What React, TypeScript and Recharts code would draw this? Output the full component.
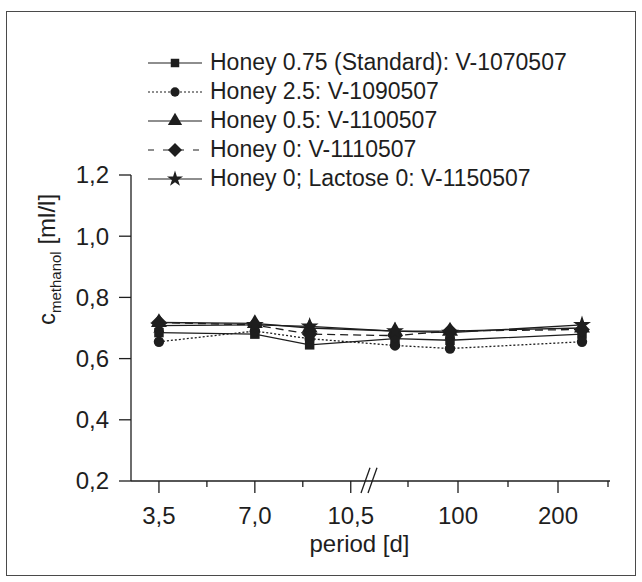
import { LineChart, Line, XAxis, YAxis, Legend, ReferenceLine, Symbols } from 'recharts'

// storage time in days, the x axis is broken between 10,5 and 100
const days = [3.5, 7, 9, 37, 92, 224]
const honey075 = [0.685, 0.68, 0.645, 0.665, 0.66, 0.68]
const honey25 = [0.655, 0.69, 0.665, 0.643, 0.633, 0.655]
const honey05 = [0.718, 0.715, 0.7, 0.69, 0.69, 0.7]
const honey0 = [0.718, 0.71, 0.68, 0.675, 0.69, 0.695]
const lactose0 = [0.708, 0.71, 0.705, 0.69, 0.685, 0.71]

const majorTicks = [3.5, 7, 10.5, 100, 200]
const majorLabels = ['3,5', '7,0', '10,5', '100', '200']
const minorTicks = [5.25, 8.75, 50, 150, 250]
const yTicks = [0.2, 0.4, 0.6, 0.8, 1.0, 1.2]

const FONT = '"Liberation Sans", Arial, Helvetica, sans-serif'
const INK = '#1e1e1e'

// piecewise axis: left part ~27.4 units/day, right part 1 unit/day
const BREAK = 237
function pos(d: number) {
  return d < 12 ? (d - 2.48) * 27.4 : BREAK + (d - 10)
}

const SERIES = [
  { key: 'h075', name: 'Honey 0.75 (Standard): V-1070507', symbol: 'square', size: 90, dash: undefined, legendDash: undefined, values: honey075 },
  { key: 'h25', name: 'Honey 2.5: V-1090507', symbol: 'circle', size: 85, dash: '2 2', legendDash: '2 2', values: honey25 },
  { key: 'h05', name: 'Honey 0.5: V-1100507', symbol: 'triangle', size: 110, dash: undefined, legendDash: undefined, values: honey05 },
  { key: 'h0', name: 'Honey 0: V-1110507', symbol: 'diamond', size: 110, dash: '8 5', legendDash: '6 9', values: honey0 },
  { key: 'l0', name: 'Honey 0; Lactose 0: V-1150507', symbol: 'star', size: 100, dash: undefined, legendDash: undefined, values: lactose0 },
]

const data = days.map((d, i) => {
  const row: Record<string, number> = { pos: pos(d), day: d }
  SERIES.forEach((s) => (row[s.key] = s.values[i]))
  return row
})

const xTicks = [...majorTicks, ...minorTicks].map(pos)

function XTick({ x, y, payload }: any) {
  const idx = majorTicks.findIndex((d) => Math.abs(pos(d) - payload.value) < 1e-6)
  const major = idx >= 0
  return (
    <g>
      <line x1={x} x2={x} y1={y} y2={y + (major ? 12 : 6)} stroke={INK} strokeWidth={1.3} />
      {major && (
        <text x={x} y={y + 43} textAnchor="middle" fontSize={24} fontFamily={FONT} fill={INK}>
          {majorLabels[idx]}
        </text>
      )}
    </g>
  )
}

function YTick({ x, y, payload }: any) {
  return (
    <g>
      <line x1={x - 12} x2={x} y1={y} y2={y} stroke={INK} strokeWidth={1.3} />
      <text x={x - 22} y={y} dy="0.35em" textAnchor="end" fontSize={24} fontFamily={FONT} fill={INK}>
        {payload.value.toFixed(1).replace('.', ',')}
      </text>
    </g>
  )
}

// recharts' own diamond is too narrow, so draw a square one
function Marker({ cx, cy, type, size }: { cx: number; cy: number; type: string; size: number }) {
  if (type === 'diamond') {
    const r = Math.sqrt(size) * 0.75
    return <polygon points={`${cx - r},${cy} ${cx},${cy - r} ${cx + r},${cy} ${cx},${cy + r}`} fill={INK} />
  }
  return <Symbols cx={cx} cy={cy} type={type as any} size={size} fill={INK} stroke="none" />
}

const makeDot = (type: string, size: number) => (props: any) => {
  const { cx, cy, index } = props
  if (cx == null || cy == null) return <g key={index} />
  return <Marker key={index} cx={cx} cy={cy} type={type} size={size} />
}

function LegendBox() {
  return (
    <div style={{ fontFamily: FONT, fontSize: 23, color: INK }}>
      {SERIES.map((s) => (
        <div key={s.key} style={{ display: 'flex', alignItems: 'center', height: 29 }}>
          <svg width={56} height={20}>
            <line x1={0} x2={54} y1={10} y2={10} stroke={INK} strokeWidth={1.2} strokeDasharray={s.legendDash} />
            <Marker cx={27} cy={10} type={s.symbol} size={s.size * 0.8} />
          </svg>
          <span style={{ marginLeft: 6, whiteSpace: 'nowrap' }}>{s.name}</span>
        </div>
      ))}
    </div>
  )
}

export default function App() {
  return (
    <div style={{ position: 'absolute', left: 0, top: 0, width: 642, height: 582, background: '#fff' }}>
      <div
        style={{
          position: 'absolute',
          left: 6,
          top: 11,
          width: 628,
          height: 563,
          border: '1.5px solid #4a4a4a',
        }}
      />
      <div style={{ position: 'absolute', left: 0, top: 0 }}>
        <LineChart width={642} height={582} data={data} margin={{ top: 175, right: 32, bottom: 41, left: 71 }}>
          <XAxis
            type="number"
            dataKey="pos"
            domain={[0, 479]}
            ticks={xTicks}
            interval={0}
            tickSize={0}
            tickMargin={0}
            tickLine={false}
            tick={<XTick />}
            height={60}
            axisLine={{ stroke: INK, strokeWidth: 1.3 }}
            label={{
              content: ({ viewBox }: any) => (
                <text
                  x={viewBox.x + viewBox.width / 2 - 11}
                  y={viewBox.y + 71}
                  textAnchor="middle"
                  fontSize={24}
                  fontFamily={FONT}
                  fill={INK}
                >
                  period [d]
                </text>
              ),
            }}
          />
          <YAxis
            type="number"
            domain={[0.2, 1.2]}
            ticks={yTicks}
            interval={0}
            tickSize={0}
            tickMargin={0}
            tickLine={false}
            tick={<YTick />}
            width={60}
            axisLine={{ stroke: INK, strokeWidth: 1.3 }}
            label={{
              content: () => (
                <text transform="rotate(-90)" x={-325} y={55} textAnchor="start" fontSize={24} fontFamily={FONT} fill={INK}>
                  c
                  <tspan fontSize={15} dy={6}>
                    methanol
                  </tspan>
                  <tspan dy={-6}> [ml/l]</tspan>
                </text>
              ),
            }}
          />
          <ReferenceLine
            segment={[
              { x: BREAK - 7, y: 0.161 },
              { x: BREAK + 2, y: 0.243 },
            ]}
            stroke={INK}
            strokeWidth={1.3}
            ifOverflow="visible"
          />
          <ReferenceLine
            segment={[
              { x: BREAK, y: 0.161 },
              { x: BREAK + 9, y: 0.243 },
            ]}
            stroke={INK}
            strokeWidth={1.3}
            ifOverflow="visible"
          />
          {SERIES.map((s) => (
            <Line
              key={s.key}
              type="linear"
              dataKey={s.key}
              name={s.name}
              stroke={INK}
              strokeWidth={1.3}
              strokeDasharray={s.dash}
              dot={makeDot(s.symbol, s.size)}
              activeDot={false}
              isAnimationActive={false}
            />
          ))}
          <Legend
            layout="vertical"
            align="center"
            verticalAlign="middle"
            content={<LegendBox />}
            wrapperStyle={{ top: 48, left: 148, width: 480 }}
          />
        </LineChart>
      </div>
    </div>
  )
}
